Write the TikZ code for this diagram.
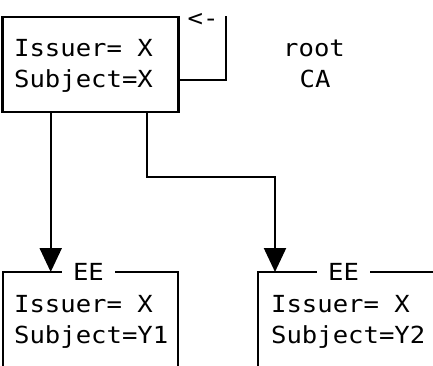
\documentclass[tikz,border=0pt]{standalone}
\usepackage{fontspec}
\setmonofont[FakeStretch=1.09]{DejaVu Sans Mono}
\usepackage{tikz}
\usetikzlibrary{arrows.meta}
\usetikzlibrary{positioning}

\tikzset{
  mono/.style={font=\fontsize{23.5}{31.5}\selectfont\ttfamily, inner sep=0pt},
  certline/.style={mono, anchor=base west},
  tag/.style={mono, fill=white, inner xsep=11pt, inner ysep=1pt},
  link/.style={-{Triangle[length=24pt,width=22pt]}},
}

\begin{document}
\begin{tikzpicture}[x=1pt, y=-1pt, line width=2.2pt]
  \useasboundingbox (0,0) rectangle (433,366);

  % self-signed root
  \node[draw, minimum width=176pt, minimum height=95pt, inner sep=0pt] (rootbox) at (90.5,64.5) {};
  \node[certline] (rootiss) at (13,56.7) {Issuer= X};
  \node[certline] (rootsub) at (13,88) {Subject=X};
  \node[mono, anchor=base] (rootname) at (314,56.7) {root};
  \node[mono, anchor=base] (rootca) at (315,88) {CA};

  % loop back onto itself
  \coordinate (loop) at (226,80);
  \draw ([yshift=-15.5pt]rootbox.east) -- (loop) -- (loop |- rootbox.north);
  \node[mono] (loopmark) at (203,19.5) {<-};

  % end entity certificates (open at the bottom)
  \coordinate (ee1) at (50.7,272);
  \coordinate (ee2) at (275,272);
  \draw (3,366) -- (3,272) -- (178,272) -- (178,366);
  \draw (258,366) -- (258,272) -- (433,272);
  \node[tag] (ee1tag) at (88.5,272) {EE};
  \node[tag] (ee2tag) at (343.5,272) {EE};
  \node[certline] (ee1iss) at (13,312.7) {Issuer= X};
  \node[certline] (ee1sub) at (13,343) {Subject=Y1};
  \node[certline] (ee2iss) at (270,312.7) {Issuer= X};
  \node[certline] (ee2sub) at (270,343) {Subject=Y2};

  % issuing links
  \coordinate (split) at (147,177);
  \draw[link] (rootbox.south -| ee1) -- (ee1);
  \draw[link] (rootbox.south -| split) -- (split) -| (ee2);
\end{tikzpicture}
\end{document}
